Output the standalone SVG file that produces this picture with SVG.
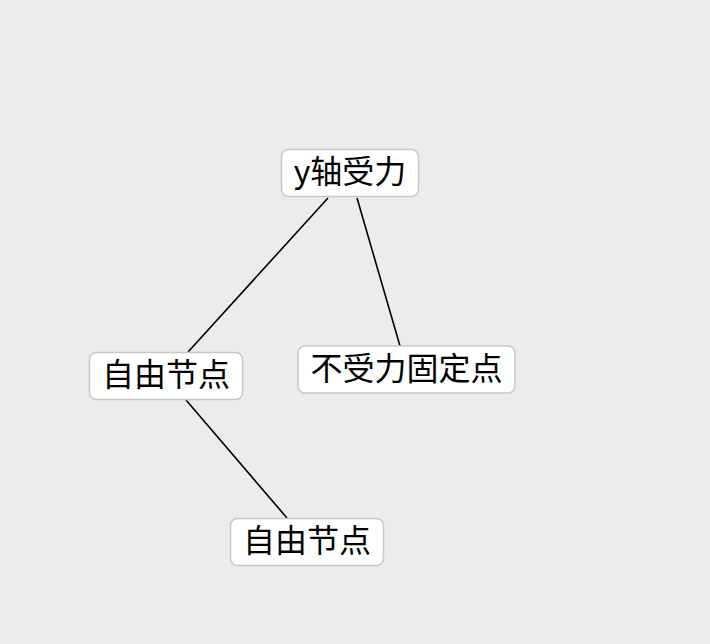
<svg xmlns="http://www.w3.org/2000/svg" width="710" height="644" viewBox="0 0 710 644">
<style>
.bg{fill:#ececec}
.box{fill:#ffffff;stroke:#c8c8c8;stroke-width:1.5}
.lbl{font-family:"Noto Sans CJK SC","Liberation Sans",sans-serif;font-size:32px;fill:#000;text-anchor:middle;dominant-baseline:central}
.edge{stroke:#000;stroke-width:1.6;fill:none}
</style>
<rect class="bg" x="0" y="0" width="710" height="644"/>
<g id="connectors">
<line class="edge" x1="328" y1="198" x2="188" y2="352"/>
<line class="edge" x1="357" y1="198" x2="400" y2="346"/>
<line class="edge" x1="186" y1="400" x2="287" y2="518"/>
</g>
<g id="n1">
<rect class="box" x="281.5" y="149.5" width="137" height="47" rx="7"/>
<text class="lbl" x="350" y="169">y轴受力</text>
</g>
<g id="n2">
<rect class="box" x="89.5" y="352.5" width="153" height="47" rx="7"/>
<text class="lbl" x="166" y="372">自由节点</text>
</g>
<g id="n3">
<rect class="box" x="298" y="346" width="217" height="47" rx="7"/>
<text class="lbl" x="406.5" y="366">不受力固定点</text>
</g>
<g id="n4">
<rect class="box" x="230.5" y="518.5" width="153" height="47" rx="7"/>
<text class="lbl" x="307" y="538">自由节点</text>
</g>
</svg>
